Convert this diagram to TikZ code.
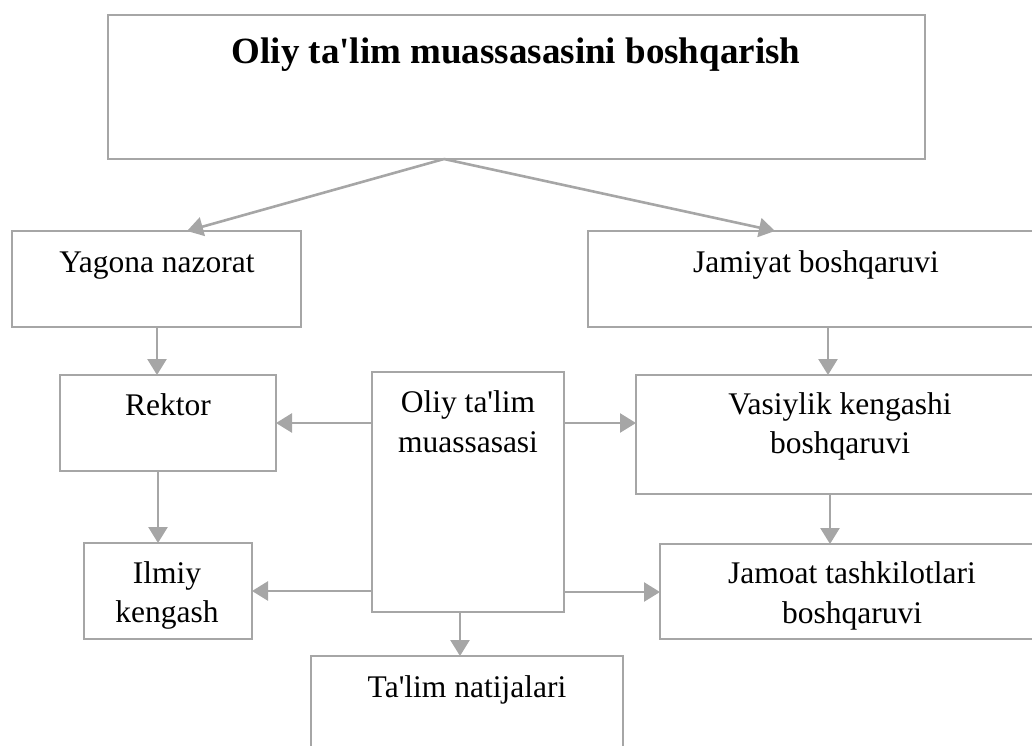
\documentclass[tikz,border=0pt]{standalone}
\usepackage{fontspec}
\setmainfont{Liberation Serif}
\usetikzlibrary{arrows.meta,fit}

\definecolor{edgegray}{HTML}{A6A6A6}

\tikzset{
  x=1pt, y=-1pt,
  box/.style={draw=edgegray, line width=2.6pt, inner sep=0pt, outer sep=0pt, rectangle},
  txt/.style={inner sep=0pt, outer sep=0pt, anchor=base, text=black,
              font=\fontsize{31.5}{38}\selectfont},
  ttl/.style={inner sep=0pt, outer sep=0pt, anchor=base, text=black,
              font=\fontsize{37}{44}\selectfont\bfseries},
  arr/.style={draw=edgegray, line width=2.6pt,
              -{Triangle[length=16pt,width=19pt]}},
}

\begin{document}
\begin{tikzpicture}
  \useasboundingbox (0,0) rectangle (1032,745);
  \clip (0,0) rectangle (1032,745);

  % boxes
  \node[box, fit={(108,15) (925,159)}]  (top) {};
  \node[box, fit={(12,231) (301,327)}]  (yag) {};
  \node[box, fit={(588,231) (1045,327)}] (jam) {};
  \node[box, fit={(60,375) (276,471)}]  (rek) {};
  \node[box, fit={(372,372) (564,612)}] (oliy) {};
  \node[box, fit={(636,375) (1045,494)}] (vas) {};
  \node[box, fit={(84,543) (252,639)}]  (ilm) {};
  \node[box, fit={(660,544) (1045,639)}] (jmt) {};
  \node[box, fit={(311,656) (623,770)}] (tal) {};

  % labels
  \node[ttl] (top-t) at (516,63) {Oliy ta\textquotesingle lim muassasasini boshqarish};
  \node[txt] (yag-t) at (157,272) {Yagona nazorat};
  \node[txt] (jam-t) at (816,272) {Jamiyat boshqaruvi};
  \node[txt] (rek-t) at (168,415) {Rektor};
  \node[txt] (oliy-t1) at (468,412) {Oliy ta\textquotesingle lim};
  \node[txt] (oliy-t2) at (468,452) {muassasasi};
  \node[txt] (vas-t1) at (840,414) {Vasiylik kengashi};
  \node[txt] (vas-t2) at (840,453) {boshqaruvi};
  \node[txt] (ilm-t1) at (167,583) {Ilmiy};
  \node[txt] (ilm-t2) at (167,622) {kengash};
  \node[txt] (jmt-t1) at (852,583) {Jamoat tashkilotlari};
  \node[txt] (jmt-t2) at (852,623) {boshqaruvi};
  \node[txt] (tal-t) at (467,697) {Ta\textquotesingle lim natijalari};

  % split point under the top box and arrow targets
  \coordinate (split) at (444,159);
  \coordinate (yagin) at (187,231);
  \coordinate (jamin) at (775,231);

  % connectors
  \draw[arr] (split) -- (yagin);
  \draw[arr] (split) -- (jamin);

  \draw[arr] (yag.south -| 157,0) -- (rek.north -| 157,0);
  \draw[arr] (rek.south -| 158,0) -- (ilm.north -| 158,0);
  \draw[arr] (jam.south -| 828,0) -- (vas.north -| 828,0);
  \draw[arr] (vas.south -| 830,0) -- (jmt.north -| 830,0);

  \draw[arr] (oliy.west |- 0,423) -- (rek.east |- 0,423);
  \draw[arr] (oliy.east |- 0,423) -- (vas.west |- 0,423);
  \draw[arr] (oliy.west |- 0,591) -- (ilm.east |- 0,591);
  \draw[arr] (oliy.east |- 0,592) -- (jmt.west |- 0,592);
  \draw[arr] (oliy.south -| 460,0) -- (tal.north -| 460,0);
\end{tikzpicture}
\end{document}
